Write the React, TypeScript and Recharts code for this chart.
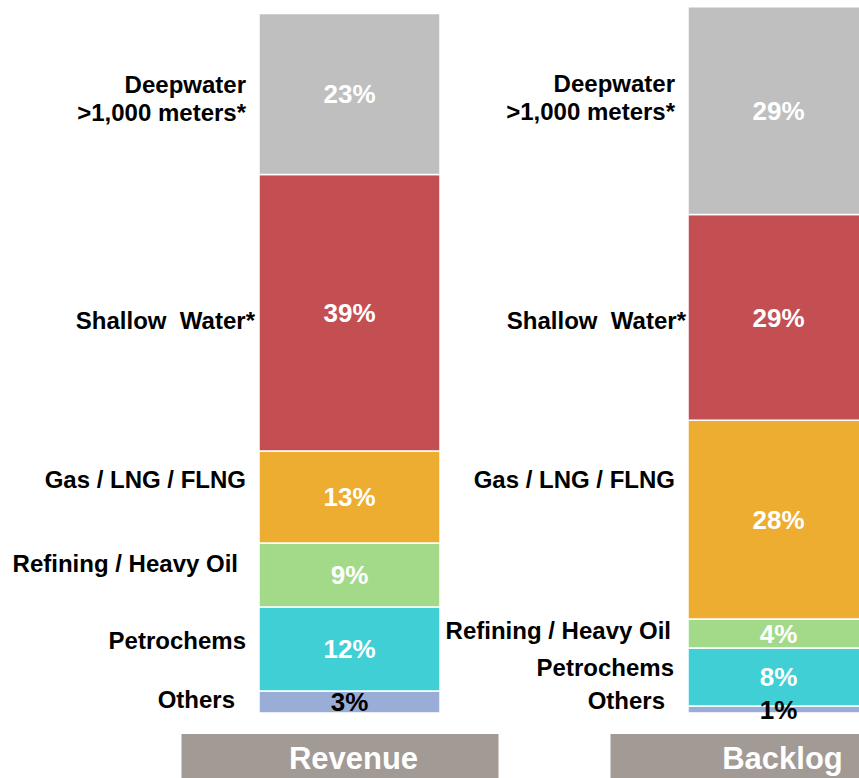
import React from 'react';
import { BarChart, Bar, XAxis, YAxis, LabelList } from 'recharts';

const categories = ['Revenue', 'Backlog'];
const deepwater = [22.8, 29.4];
const shallowWater = [39.1, 29.1];
const gasLng = [13.0, 28.1];
const refining = [9.05, 4.1];
const petrochems = [11.9, 8.2];
const others = [3.1, 1.0];

const segmentNames = {
  others: ['Others'],
  petrochems: ['Petrochems'],
  refining: ['Refining / Heavy Oil'],
  gasLng: ['Gas / LNG / FLNG'],
  shallowWater: ['Shallow\u00A0 Water*'],
  deepwater: ['Deepwater', '>1,000 meters*'],
};

const data = categories.map((c, i) => ({
  name: c,
  deepwater: deepwater[i],
  shallowWater: shallowWater[i],
  gasLng: gasLng[i],
  refining: refining[i],
  petrochems: petrochems[i],
  others: others[i],
}));

const FONT = '"Liberation Sans", Arial, Helvetica, sans-serif';

// style: side label placement (right-edge gap, vertical offset per bar)
const sideStyle: Record<string, { gap: number[]; dy: number[] }> = {
  deepwater: { gap: [13, 13], dy: [4.5, -13.5] },
  shallowWater: { gap: [4, 2], dy: [7.5, 3] },
  gasLng: { gap: [13, 13], dy: [-17.5, -40] },
  refining: { gap: [21, 17], dy: [-11.5, -3] },
  petrochems: { gap: [13, 14], dy: [-8.5, -10] },
  others: { gap: [24, 23], dy: [-2.5, -9] },
};

const makeSideLabel = (key: string) => (props: any) => {
  const { x, y, width, height, index } = props;
  const lines = segmentNames[key];
  const st = sideStyle[key];
  const cy = y + height / 2 + st.dy[index];
  const lh = 28;
  const startY = cy - ((lines.length - 1) * lh) / 2;
  return (
    <text
      x={x - st.gap[index]}
      y={startY}
      textAnchor="end"
      fontFamily={FONT}
      fontWeight="bold"
      fontSize={24}
      fill="#000"
    >
      {lines.map((l: string, i: number) => (
        <tspan key={i} x={x - st.gap[index]} dy={i === 0 ? '0.36em' : lh}>
          {l}
        </tspan>
      ))}
    </text>
  );
};

const makeValueLabel = (color: string) => (props: any) => {
  const { x, y, width, height, value } = props;
  return (
    <text
      x={x + width / 2}
      y={y + height / 2}
      dy="0.36em"
      textAnchor="middle"
      fontFamily={FONT}
      fontWeight="bold"
      fontSize={26}
      fill={color}
    >
      {Math.round(value) + '%'}
    </text>
  );
};

const AxisTick = (props: any) => {
  const { x, y, payload } = props;
  return (
    <g>
      <rect x={x - 168} y={y + 21} width={317} height={60} fill="#A29A94" />
      <text
        x={x + 4}
        y={y + 45}
        dy="0.36em"
        textAnchor="middle"
        fontFamily={FONT}
        fontWeight="bold"
        fontSize={31}
        fill="#fff"
      >
        {payload.value}
      </text>
    </g>
  );
};

const series = [
  { key: 'others', color: '#99ADD6', text: '#000' },
  { key: 'petrochems', color: '#40CFD5', text: '#fff' },
  { key: 'refining', color: '#A2DA8A', text: '#fff' },
  { key: 'gasLng', color: '#ECAD31', text: '#fff' },
  { key: 'shallowWater', color: '#C34F53', text: '#fff' },
  { key: 'deepwater', color: '#BFBFBF', text: '#fff' },
];

export default function App() {
  return (
    <div
      style={{
        position: 'absolute',
        left: 0,
        top: 0,
        width: 859,
        height: 778,
        overflow: 'hidden',
        background: '#fff',
      }}
    >
      <BarChart
        width={1000}
        height={778}
        data={data}
        margin={{ top: 6, right: 7, left: 135, bottom: 0 }}
        barSize={181}
      >
        <XAxis
          dataKey="name"
          axisLine={false}
          tickLine={false}
          tickSize={0}
          tickMargin={0}
          height={65}
          tick={<AxisTick />}
          interval={0}
        />
        <YAxis hide domain={[0, 100]} />
        {series.map((s) => (
          <Bar
            key={s.key}
            dataKey={s.key}
            stackId="a"
            fill={s.color}
            stroke="#fff"
            strokeWidth={1.5}
            isAnimationActive={false}
          >
            <LabelList dataKey={s.key} content={makeValueLabel(s.text)} />
            <LabelList dataKey={s.key} content={makeSideLabel(s.key)} />
          </Bar>
        ))}
      </BarChart>
    </div>
  );
}
